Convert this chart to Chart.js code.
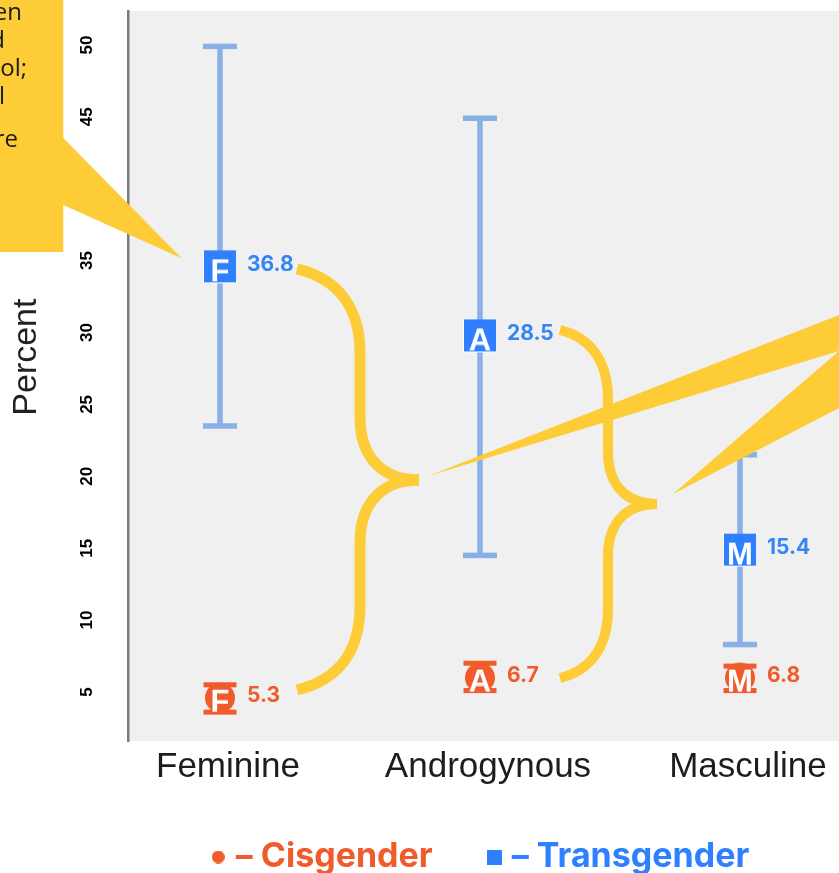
<!DOCTYPE html>
<html><head><meta charset="utf-8">
<script src="https://cdn.jsdelivr.net/npm/chart.js@4/dist/chart.umd.min.js"></script>
<style>html,body{margin:0;padding:0;background:#fff;overflow:hidden}#wrap{width:839px;height:873px;overflow:hidden}</style>
</head><body><div id="wrap"><canvas id="c" width="839" height="884"></canvas></div>
<script>
// ---- data ----
const categories = ['Feminine', 'Androgynous', 'Masculine'];
const letters = ['F', 'A', 'M'];
const yTicks = [5, 10, 15, 20, 25, 30, 35, 40, 45, 50];
const transValues = [34.6, 29.8, 14.9];
const transLow = [23.5, 14.5, 8.3];
const transHigh = [49.9, 44.9, 21.5];
const transLabels = ['36.8', '28.5', '15.4'];
const cisValues = [4.6, 6.0, 6.0];
const cisLow = [3.6, 5.1, 5.1];
const cisHigh = [5.5, 7.0, 6.8];
const cisLabels = ['5.3', '6.7', '6.8'];
const calloutLines = ['Gender-nonconforming children', 'were more likely to be bullied', 'at school;', 'overall', 'there were'];

// ---- styles ----
const C_BLUE = '#2f80ff', C_BLUE_TXT = '#3585f6', C_ERR = '#89b1e8', C_ORANGE = '#f15a2b', C_YELLOW = '#fdcc37', C_BG = '#f0f0f0';
const X_MIN = -0.3538, X_MAX = 2.3808, Y_MIN = 1.592, Y_MAX = 52.36;
const AXIS_FONT = '"Liberation Sans", Arial, sans-serif';
const LABEL_FONT = 'Inter, "DejaVu Sans", sans-serif';

function marker(letter, shape, color) {
  const s = 36, c = document.createElement('canvas');
  c.width = s; c.height = s;
  const g = c.getContext('2d');
  if (shape === 'rect') {
    g.fillStyle = '#fff'; g.fillRect(1, 3, 32, 32);
    g.fillStyle = color; g.fillRect(2, 2, 32, 32);
  } else {
    g.fillStyle = color; g.beginPath(); g.arc(18, 18, 15, 0, Math.PI * 2); g.fill();
  }
  g.fillStyle = '#fff'; g.font = 'bold 31px ' + AXIS_FONT;
  g.textAlign = 'center'; g.textBaseline = 'alphabetic';
  g.fillText(letter, 18, shape === 'rect' ? 33 : 32);
  return c;
}
function legendMark(shape, color, size) {
  const c = document.createElement('canvas'); c.width = size; c.height = size;
  const g = c.getContext('2d'); g.fillStyle = color;
  if (shape === 'rect') g.fillRect(0, 0, size, size);
  else { g.beginPath(); g.arc(size / 2, size / 2, size / 2, 0, Math.PI * 2); g.fill(); }
  return c;
}
const transMarkers = letters.map(l => marker(l, 'rect', C_BLUE));
const cisMarkers = letters.map(l => marker(l, 'circle', C_ORANGE));

// annotation geometry (data units)
const braces = [
  { end: 0.2962, mid: 0.5385, tip: 0.7654, top: 34.42, tipY: 19.74, bot: 5.14, w: 11 },
  { end: 1.3077, mid: 1.4923, tip: 1.6808, top: 30.18, tipY: 18.08, bot: 5.97, w: 10 }
];
const leftCallout = { right: -0.6027, bottom: 35.60, wTop: 43.53, wBot: 38.87, tipX: -0.1473, tipY: 35.16 };
const rightCallout = { t1: [0.8, 20.02], t2: [1.7423, 18.77], ex: 2.3808, e1: 31.22, e2: 28.72, e3: 24.75 };

const bgPlugin = {
  id: 'bg',
  beforeDraw(chart) {
    const { ctx, chartArea: a } = chart;
    ctx.save(); ctx.fillStyle = C_BG; ctx.fillRect(a.left, a.top, a.right - a.left, a.bottom - a.top); ctx.restore();
  }
};
const errorBars = {
  id: 'errorBars',
  beforeDatasetsDraw(chart) {
    const { ctx } = chart, X = chart.scales.x, Y = chart.scales.y;
    ctx.save();
    categories.forEach((c, i) => {
      const x = X.getPixelForValue(i);
      let yl = Y.getPixelForValue(transLow[i]), yh = Y.getPixelForValue(transHigh[i]);
      ctx.fillStyle = C_ERR;
      ctx.fillRect(x - 2.75, yh, 5.5, yl - yh);
      ctx.fillRect(x - 17, yh - 2.75, 34, 5.5);
      ctx.fillRect(x - 17, yl - 2.75, 34, 5.5);
      yl = Y.getPixelForValue(cisLow[i]); yh = Y.getPixelForValue(cisHigh[i]);
      ctx.fillStyle = C_ORANGE;
      ctx.fillRect(x - 2.5, yh, 5, yl - yh);
      ctx.fillRect(x - 16.5, yh - 2.5, 33, 5);
      ctx.fillRect(x - 16.5, yl - 2.5, 33, 5);
    });
    ctx.restore();
  }
};
const labelsPlugin = {
  id: 'labels',
  afterDatasetsDraw(chart) {
    const { ctx } = chart, X = chart.scales.x, Y = chart.scales.y;
    ctx.save();
    ctx.font = 'bold 21px ' + LABEL_FONT; ctx.textAlign = 'left'; ctx.textBaseline = 'middle';
    categories.forEach((c, i) => {
      const x = X.getPixelForValue(i) + 27;
      ctx.fillStyle = C_BLUE_TXT; ctx.fillText(transLabels[i], x, Y.getPixelForValue(transValues[i]) - 2);
      ctx.fillStyle = C_ORANGE; ctx.fillText(cisLabels[i], x, Y.getPixelForValue(cisValues[i]) - 2);
    });
    // braces
    ctx.strokeStyle = C_YELLOW; ctx.lineCap = 'butt'; ctx.lineJoin = 'round';
    braces.forEach(b => {
      const ex = X.getPixelForValue(b.end), mx = X.getPixelForValue(b.mid), tx = X.getPixelForValue(b.tip);
      const ty = Y.getPixelForValue(b.top), tp = Y.getPixelForValue(b.tipY), by = Y.getPixelForValue(b.bot);
      ctx.lineWidth = b.w;
      const half = (ys, ye) => {
        const h = ye - ys;
        ctx.beginPath(); ctx.moveTo(ex, ys);
        ctx.bezierCurveTo(ex + 0.7 * (mx - ex), ys + 0.05 * h, mx, ys + 0.2 * h, mx, ys + 0.4 * h);
        ctx.lineTo(mx, ys + 0.7 * h);
        ctx.bezierCurveTo(mx, ys + 0.9 * h, mx + 0.4 * (tx - mx), ye, tx, ye);
        ctx.stroke();
      };
      half(ty, tp); half(by, tp);
    });
    ctx.restore();
  }
};
const calloutPlugin = {
  id: 'callouts',
  afterDraw(chart) {
    const { ctx } = chart, X = v => chart.scales.x.getPixelForValue(v), Y = v => chart.scales.y.getPixelForValue(v);
    ctx.save();
    ctx.fillStyle = C_YELLOW;
    const L = leftCallout;
    const bx = X(L.right), bb = Y(L.bottom);
    ctx.beginPath();
    ctx.moveTo(-5, -5); ctx.lineTo(bx, -5); ctx.lineTo(bx, Y(L.wTop)); ctx.lineTo(X(L.tipX), Y(L.tipY));
    ctx.lineTo(bx, Y(L.wBot)); ctx.lineTo(bx, bb); ctx.lineTo(-5, bb); ctx.closePath(); ctx.fill();
    // callout text (mostly outside the view)
    ctx.save(); ctx.beginPath(); ctx.rect(0, 0, bx, bb); ctx.clip();
    ctx.fillStyle = '#1a1a1a'; ctx.font = '24px "Open Sans", sans-serif'; ctx.textAlign = 'right'; ctx.textBaseline = 'alphabetic';
    const ends = [22, 5, 27, 5, 18], bases = [20, 48, 76, 104, 147];
    calloutLines.forEach((t, i) => ctx.fillText(t, ends[i], bases[i]));
    ctx.restore();
    // right callout
    const R = rightCallout;
    const ext = (p, y) => { const x0 = X(p[0]), y0 = Y(p[1]), x1 = X(R.ex), y1 = Y(y); const k = 1.3; return [x0 + (x1 - x0) * k, y0 + (y1 - y0) * k]; };
    const a = ext(R.t1, R.e1), b = ext(R.t2, R.e3);
    ctx.fillStyle = C_YELLOW;
    ctx.beginPath();
    ctx.moveTo(X(R.t1[0]), Y(R.t1[1])); ctx.lineTo(a[0], a[1]); ctx.lineTo(b[0], b[1]);
    ctx.lineTo(X(R.t2[0]), Y(R.t2[1])); ctx.lineTo(X(R.ex), Y(R.e2)); ctx.closePath(); ctx.fill();
    ctx.restore();
  }
};

const chart = new Chart(document.getElementById('c'), {
  type: 'scatter',
  data: {
    datasets: [
      { label: 'Cisgender', data: cisValues.map((v, i) => ({ x: i, y: v })), pointStyle: cisMarkers, pointRadius: 15, backgroundColor: C_ORANGE, borderColor: C_ORANGE },
      { label: 'Transgender', data: transValues.map((v, i) => ({ x: i, y: v })), pointStyle: transMarkers, pointRadius: 16, backgroundColor: C_BLUE, borderColor: C_BLUE }
    ]
  },
  options: {
    responsive: false, animation: false, devicePixelRatio: 1, events: [],
    layout: { autoPadding: false, padding: { top: 11, left: 0, right: 0, bottom: 0 } },
    scales: {
      x: {
        type: 'linear', min: X_MIN, max: X_MAX,
        afterBuildTicks: s => { s.ticks = categories.map((c, i) => ({ value: i })); },
        afterFit: s => { s.height = 46; s.paddingLeft = 0; s.paddingRight = 0; },
        grid: { display: false, drawTicks: false }, border: { display: false },
        ticks: { callback: v => categories[v], font: { family: AXIS_FONT, size: 35 }, color: '#1d1d1d', padding: 5, maxRotation: 0, autoSkip: false, labelOffset: 8 }
      },
      y: {
        min: Y_MIN, max: Y_MAX,
        afterBuildTicks: s => { s.ticks = yTicks.map(v => ({ value: v })); },
        afterFit: s => { s.width = 128; s.paddingTop = 0; s.paddingBottom = 0; },
        grid: { display: false, drawTicks: false }, border: { display: true, color: '#7b7b7b', width: 2.5 },
        ticks: { callback: v => String(v), font: { family: AXIS_FONT, size: 17, weight: 'bold' }, color: '#000', minRotation: 90, maxRotation: 90, crossAlign: 'center', padding: 31 },
        title: { display: true, text: '\u00a0\u00a0\u00a0\u00a0Percent', font: { family: AXIS_FONT, size: 34 }, color: '#222', padding: { top: 6, bottom: 0 } }
      }
    },
    plugins: {
      tooltip: { enabled: false },
      legend: {
        position: 'bottom', fullSize: false,
        labels: {
          usePointStyle: true, boxWidth: 1, boxHeight: 34, padding: 53,
          font: { family: LABEL_FONT, size: 34, weight: 'bold' },
          generateLabels: () => [
            { text: '– Cisgender\u00a0', fontColor: C_ORANGE, fillStyle: C_ORANGE, strokeStyle: C_ORANGE, lineWidth: 0, pointStyle: legendMark('circle', C_ORANGE, 13), hidden: false, datasetIndex: 0 },
            { text: '– Transgender', fontColor: C_BLUE, fillStyle: C_BLUE, strokeStyle: C_BLUE, lineWidth: 0, pointStyle: legendMark('rect', C_BLUE, 15), hidden: false, datasetIndex: 1 }
          ]
        }
      }
    }
  },
  plugins: [bgPlugin, errorBars, labelsPlugin, calloutPlugin]
});
</script></body></html>
